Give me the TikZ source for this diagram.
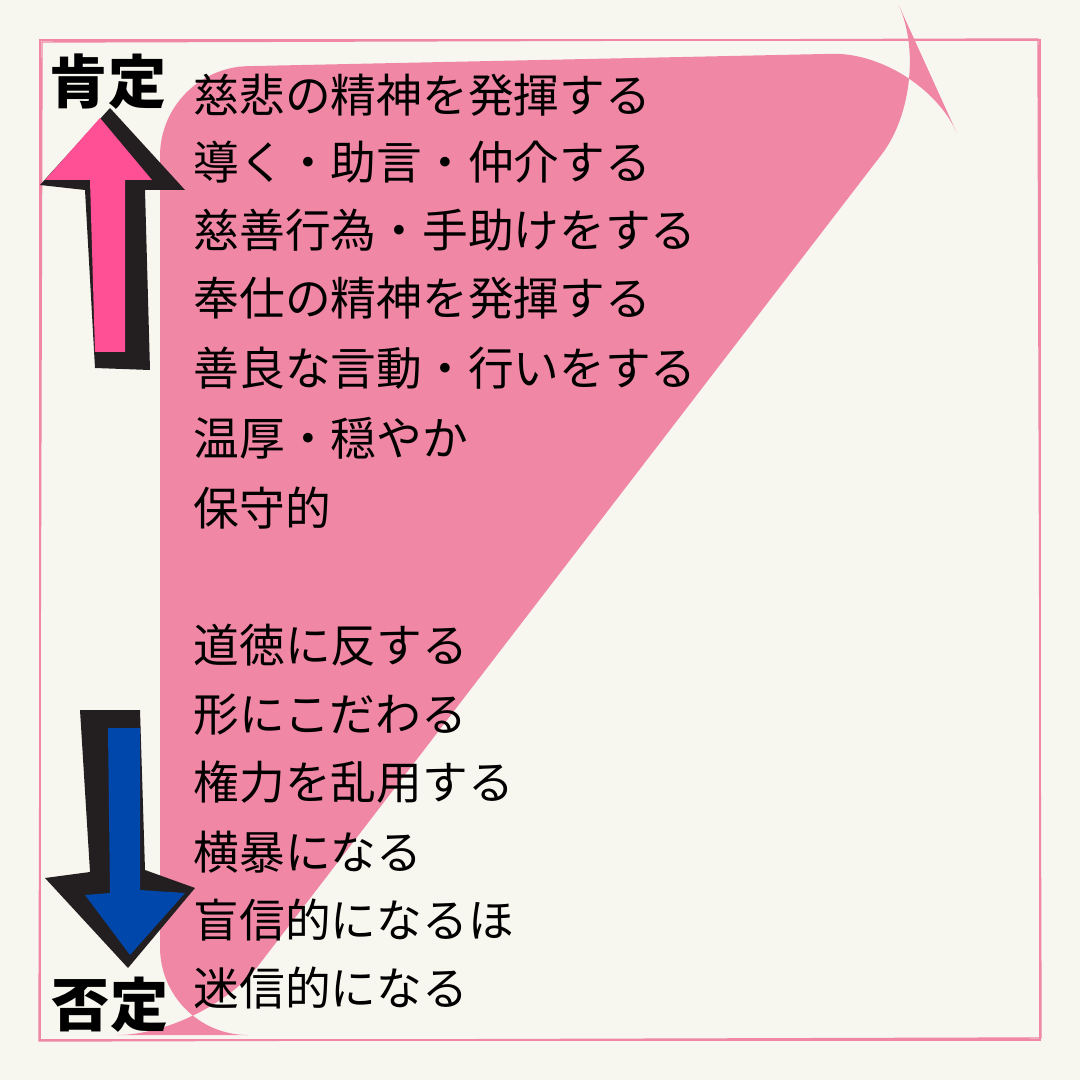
\documentclass[tikz,border=0pt]{standalone}
\usepackage{fontspec}
\newfontfamily\jp{Noto Sans CJK JP}
\newfontfamily\jpb{Noto Sans CJK JP Black}
\definecolor{bg}{HTML}{F8F7EF}
\definecolor{pk}{HTML}{EF87A5}
\definecolor{hot}{HTML}{FF4F95}
\definecolor{bl}{HTML}{0047AB}
\definecolor{sh}{HTML}{231F20}
\begin{document}
\begin{tikzpicture}[x=0.01cm,y=-0.01cm,
  item/.style={anchor=west,font=\jp\fontsize{13}{13}\selectfont,inner sep=0pt},
  pole/.style={font=\jpb\fontsize{16.5}{16}\selectfont,inner sep=0pt}]
\useasboundingbox (0,0) rectangle (1080,1080);
\fill[bg] (0,0) rectangle (1080,1080);
\draw[pk,line width=0.6pt] (40,40) rectangle (1040,1040);
\draw[pk,line width=0.4pt] (42,42) -- (1038,39) -- (1041,1038) -- (39,1041) -- cycle;
% pink triangle
\fill[pk,rounded corners=25pt] (160,68) -- (920,52) -- (935,85) -- (205,1035) -- (160,1035) -- cycle;
% up arrow shadow and arrow
\fill[sh] (110,108) -- (185,190) -- (145,190) -- (150,370) -- (95,368) -- (85,190) -- (40,185) -- cycle;
\fill[hot] (100,118) -- (152,180) -- (125,180) -- (125,352) -- (95,352) -- (90,180) -- (45,180) -- cycle;
% down arrow
\fill[sh] (80,710) -- (140,710) -- (145,870) -- (195,888) -- (128,968) -- (45,878) -- (90,872) -- cycle;
\fill[bl] (108,728) -- (140,728) -- (140,890) -- (185,893) -- (130,955) -- (85,895) -- (110,893) -- cycle;
\node[pole] (pos) at (108,82) {肯定};
\node[pole] (neg) at (110,1005) {否定};
\node[item] (t1) at (193,95) {慈悲の精神を発揮する};
\node[item] (t2) at (193,162) {導く・助言・仲介する};
\node[item] (t3) at (193,230) {慈善行為・手助けをする};
\node[item] (t4) at (193,298) {奉仕の精神を発揮する};
\node[item] (t5) at (193,368) {善良な言動・行いをする};
\node[item] (t6) at (193,438) {温厚・穏やか};
\node[item] (t7) at (193,508) {保守的};
\node[item] (b1) at (193,645) {道徳に反する};
\node[item] (b2) at (193,715) {形にこだわる};
\node[item] (b3) at (193,782) {権力を乱用する};
\node[item] (b4) at (193,852) {横暴になる};
\node[item] (b5) at (193,920) {盲信的になるほ};
\node[item] (b6) at (193,988) {迷信的になる};
\end{tikzpicture}
\end{document}
